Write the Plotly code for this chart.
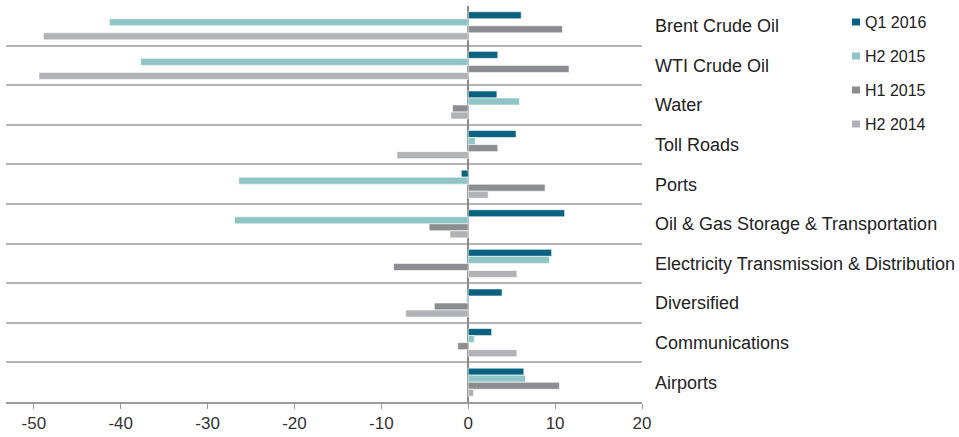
import plotly.graph_objects as go

# Sector performance by period (%)
sectors = [
    "Brent Crude Oil",
    "WTI Crude Oil",
    "Water",
    "Toll Roads",
    "Ports",
    "Oil & Gas Storage & Transportation",
    "Electricity Transmission & Distribution",
    "Diversified",
    "Communications",
    "Airports",
]
periods = ["Q1 2016", "H2 2015", "H1 2015", "H2 2014"]
q1_2016 = [6.1, 3.4, 3.3, 5.5, -0.8, 11.1, 9.6, 3.9, 2.7, 6.4]
h2_2015 = [-41.3, -37.7, 5.9, 0.8, -26.4, -26.9, 9.35, -0.2, 0.7, 6.6]
h1_2015 = [10.85, 11.6, -1.8, 3.4, 8.85, -4.5, -8.6, -3.9, -1.2, 10.5]
h2_2014 = [-48.9, -49.4, -2.0, -8.2, 2.3, -2.1, 5.6, -7.2, 5.6, 0.6]
x_ticks = [-50, -40, -30, -20, -10, 0, 10, 20]
x_tick_text = ["-50", "-40", "-30", "-20", "-10", "0", "10", "20"]

series = [q1_2016, h2_2015, h1_2015, h2_2014]
colors = ["#0b6280", "#8fc5c7", "#8c8d91", "#b1b2b6"]

FONT = "Liberation Sans, Arial, sans-serif"
W, H = 959, 437
ML, MR, MT, MB = 6, 317, 6, 35
PW, PH = W - ML - MR, H - MT - MB

fig = go.Figure()
for name, vals, col in zip(periods, series, colors):
    fig.add_trace(go.Bar(
        x=vals, y=sectors, name=name, orientation="h",
        marker=dict(color=col, line=dict(color="white", width=0.6)),
        showlegend=False,
    ))

# Legend drawn as small squares with labels to the right of the category names
legend_x = 852
legend_y = [22, 56, 90, 124]
for name, col, py in zip(periods, colors, legend_y):
    fig.add_shape(
        type="rect", xref="paper", yref="paper",
        x0=(legend_x - ML) / PW, x1=(legend_x + 8 - ML) / PW,
        y0=(H - MB - (py + 3.5)) / PH, y1=(H - MB - (py - 3.5)) / PH,
        fillcolor=col, line=dict(width=0),
    )
    fig.add_annotation(
        xref="paper", yref="paper",
        x=(legend_x + 11 - ML) / PW, y=(H - MB - py) / PH,
        text=name, showarrow=False, xanchor="left", yanchor="middle",
        font=dict(family=FONT, size=16, color="#222222"),
    )

fig.update_layout(
    width=W, height=H,
    margin=dict(l=ML, r=MR, t=MT, b=MB, autoexpand=False),
    paper_bgcolor="white", plot_bgcolor="white",
    barmode="group", bargap=0.29, bargroupgap=0,
    font=dict(family=FONT, color="#222222"),
    xaxis=dict(
        range=[-53.2, 20], tickvals=x_ticks, ticktext=x_tick_text,
        showgrid=False, automargin=False,
        zeroline=True, zerolinecolor="#8a8a8a", zerolinewidth=1.5,
        showline=True, linecolor="#9a9a9a", linewidth=1.5,
        ticks="outside", ticklen=5, tickcolor="#9a9a9a", tickwidth=1,
        tickfont=dict(family=FONT, size=17, color="#333333"),
    ),
    yaxis=dict(
        categoryorder="array", categoryarray=sectors,
        autorange="reversed", side="right", automargin=False,
        tickson="boundaries", showgrid=True,
        gridcolor="#b4b4b4", gridwidth=1.5,
        ticks="", ticklabelstandoff=12,
        tickfont=dict(family=FONT, size=18, color="#222222"),
    ),
)

fig.write_html("out.html")
